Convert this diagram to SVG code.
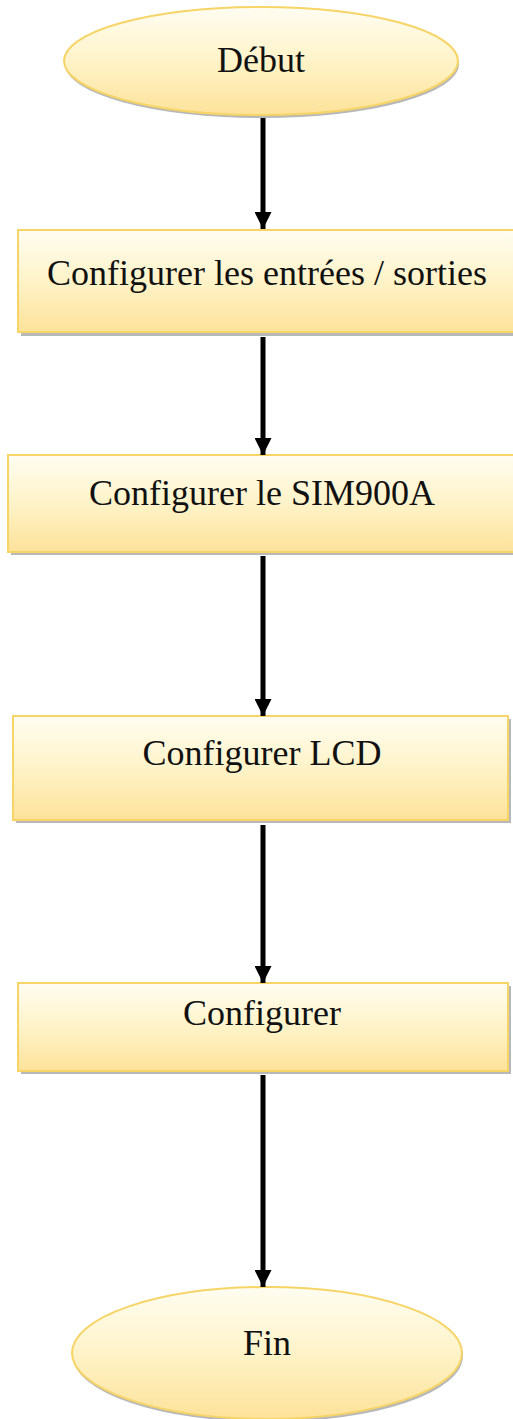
<svg xmlns="http://www.w3.org/2000/svg" width="513" height="1419" viewBox="0 0 513 1419">
<defs>
<linearGradient id="g" x1="0" y1="0" x2="0" y2="1">
<stop offset="0" stop-color="#fffdf2"/>
<stop offset="0.5" stop-color="#fef3c8"/>
<stop offset="1" stop-color="#fde29a"/>
</linearGradient>
<marker id="ah" viewBox="0 0 10 10" refX="10" refY="5" markerWidth="3.8" markerHeight="3.4" orient="auto" markerUnits="strokeWidth">
<path d="M0,0 L10,5 L0,10 z" fill="#000"/>
</marker>
</defs>
<style>
.shape{fill:url(#g);stroke:#f6d466;stroke-width:2}
.shadow{fill:#9a9a9a;opacity:0.7}
.lbl{font-family:"Liberation Serif","Times New Roman",serif;font-size:36px;fill:#111;text-anchor:middle}
.conn{stroke:#000;stroke-width:5;fill:none;marker-end:url(#ah)}
</style>
<rect width="513" height="1419" fill="#fff"/>
<g id="debut">
<ellipse class="shadow" cx="262" cy="64" rx="197" ry="54"/>
<ellipse class="shape" cx="261" cy="61" rx="197" ry="54"/>
<text class="lbl" x="261" y="72">Début</text>
</g>
<g id="config-io">
<rect class="shadow" x="21" y="233" width="500" height="103"/>
<rect class="shape" x="18" y="230" width="500" height="102"/>
<text class="lbl" x="267" y="285">Configurer les entrées / sorties</text>
</g>
<g id="config-sim">
<rect class="shadow" x="11" y="458" width="510" height="97"/>
<rect class="shape" x="8" y="455" width="510" height="97"/>
<text class="lbl" x="262" y="505">Configurer le SIM900A</text>
</g>
<g id="config-lcd">
<rect class="shadow" x="16" y="719" width="495" height="104"/>
<rect class="shape" x="13" y="716" width="495" height="104"/>
<text class="lbl" x="262" y="765">Configurer LCD</text>
</g>
<g id="config">
<rect class="shadow" x="21" y="986" width="490" height="88"/>
<rect class="shape" x="18" y="983" width="490" height="88"/>
<text class="lbl" x="262" y="1025">Configurer</text>
</g>
<g id="fin">
<ellipse class="shadow" cx="268" cy="1356" rx="195" ry="66"/>
<ellipse class="shape" cx="267" cy="1353" rx="195" ry="66"/>
<text class="lbl" x="267" y="1355">Fin</text>
</g>
<g id="connectors">
<line class="conn" x1="263" y1="118" x2="263" y2="229"/>
<line class="conn" x1="263" y1="337" x2="263" y2="455"/>
<line class="conn" x1="263" y1="556" x2="263" y2="716"/>
<line class="conn" x1="263" y1="825" x2="263" y2="983"/>
<line class="conn" x1="263" y1="1075" x2="263" y2="1287"/>
</g>
</svg>
